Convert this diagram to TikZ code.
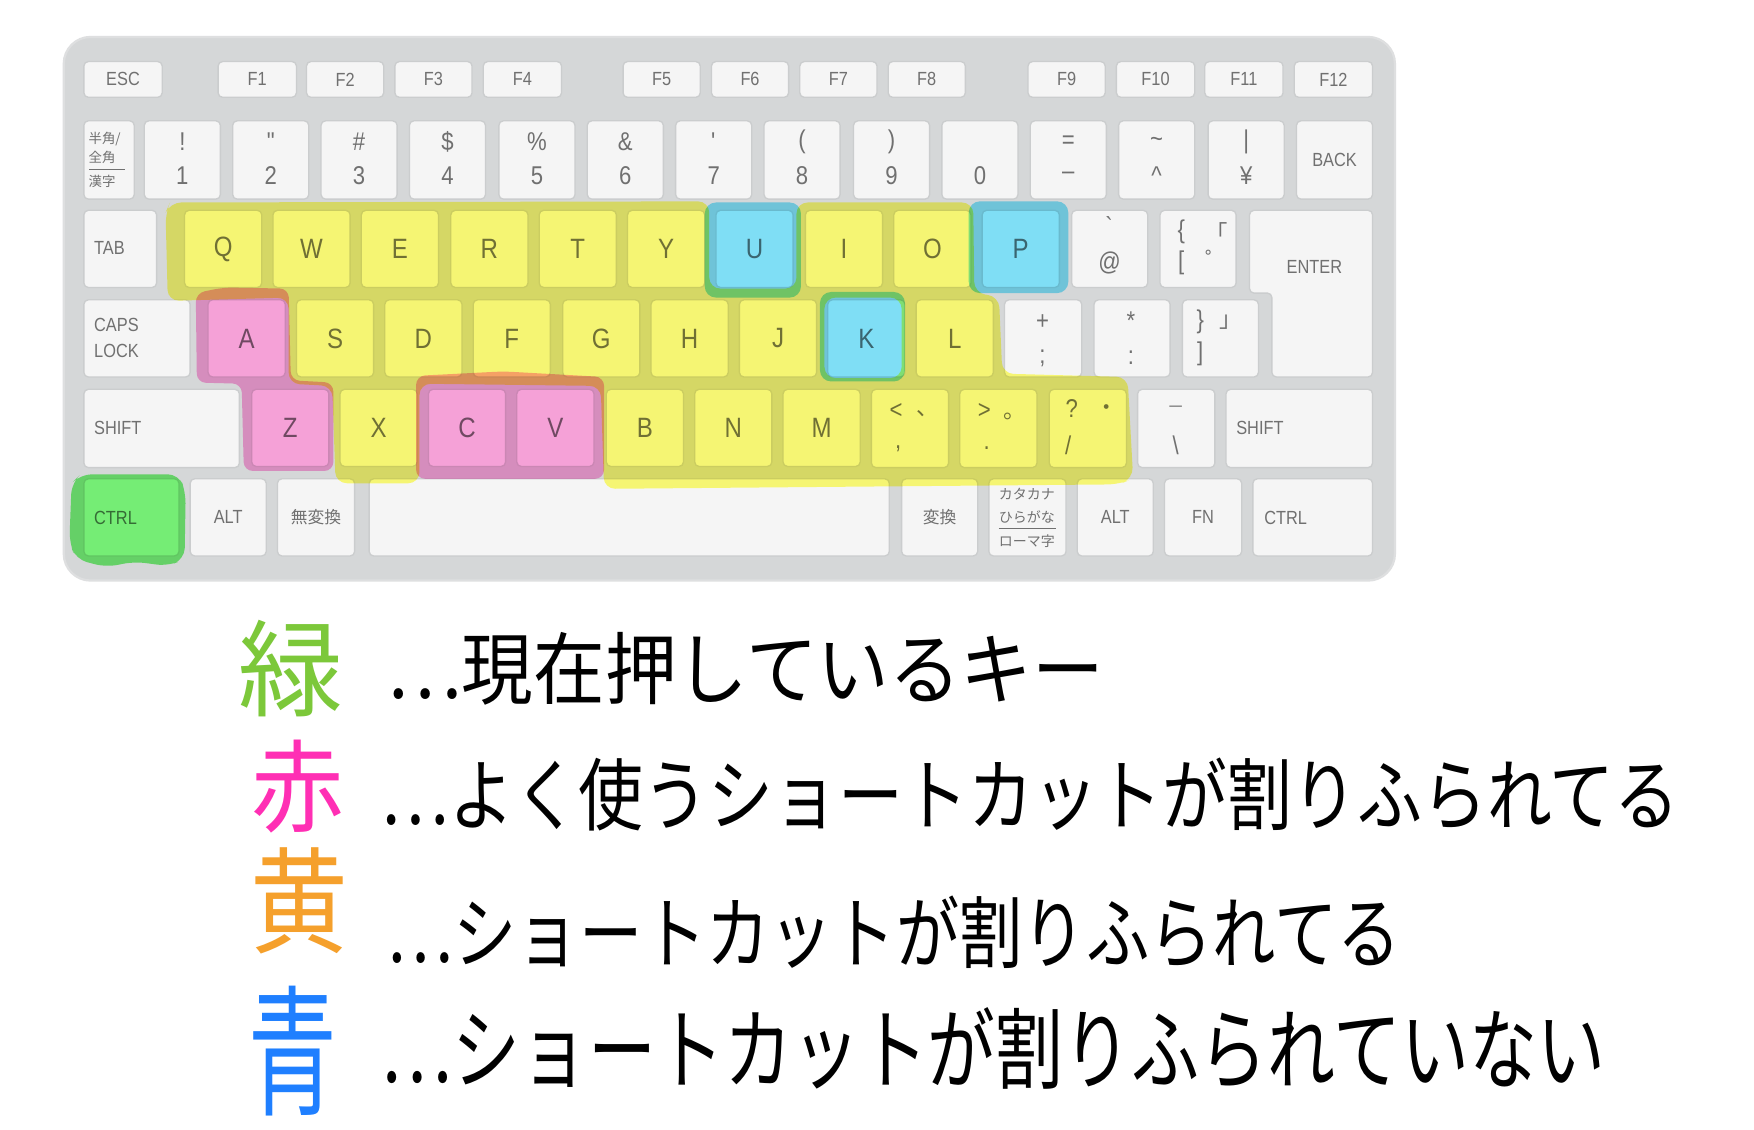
\documentclass[tikz,border=0pt]{standalone}
\usepackage{fontspec}
\setmainfont{Liberation Sans}
\newfontfamily\kf[FakeStretch=0.86]{Liberation Sans}
\newfontfamily\jf{Noto Sans CJK JP}
\definecolor{bodyc}{HTML}{D5D7D8}
\definecolor{bodyedge}{HTML}{DEDFE0}
\definecolor{keyface}{HTML}{F5F5F5}
\definecolor{keyedge}{HTML}{CBCDCE}
\definecolor{keytext}{HTML}{707070}
\definecolor{hlY}{rgb}{1,1,0.47}
\definecolor{hlP}{rgb}{1,0.66,0.88}
\definecolor{hlB}{rgb}{0.52,0.91,1}
\definecolor{hlG}{rgb}{0.48,0.97,0.48}
\definecolor{cGreen}{HTML}{7CC83A}
\definecolor{cRed}{HTML}{FF2FB4}
\definecolor{cYellow}{HTML}{F5A02C}
\definecolor{cBlue}{HTML}{1F7FFF}
\newcommand\Lt{\fontsize{25}{27}\selectfont}
\newcommand\kk[6]{\node[kbox, minimum width={(#3-#2)*1pt}, minimum height={(#5-#4)*1pt}] (#1) at ({(#2+#3)/2},{(#4+#5)/2}) {#6};}
\newcommand\nk[4]{\kk{#1}{#2}{#2+68}{108}{178}{}\node[ktxt] (#1u) at ({#2+34},127) {#3};\node[ktxt] (#1l) at ({#2+34},157) {#4};}
\newcommand\lk[4]{\kk{#1}{#2}{#2+69}{#3}{#3+69}{\Lt #4}}
\tikzset{
 kbox/.style={rectangle, rounded corners=4pt, fill=keyface, draw=keyedge, line width=1.2pt, inner sep=0pt, outer sep=0pt, text=keytext, font=\kf\fontsize{17}{19}\selectfont},
 ktxt/.style={inner sep=0pt, text=keytext, font=\kf\fontsize{23}{25}\selectfont},
 klab/.style={inner sep=0pt, text=keytext, font=\kf\fontsize{17}{23}\selectfont},
 jlab/.style={inner sep=0pt, text=keytext, font=\jf\fontsize{12}{14}\selectfont},
 hwtext/.style={inner sep=0pt, anchor=west, text=black},
 hwhead/.style={inner sep=0pt},
}
\begin{document}
\begin{tikzpicture}[x=1pt,y=-1pt]
\useasboundingbox (0,0) rectangle (1568,1010);
\fill[white] (0,0) rectangle (1568,1010);
% keyboard body
\node[fill=bodyc, draw=bodyedge, line width=2pt, rounded corners=24pt, minimum width=1190pt, minimum height=486pt, inner sep=0pt, outer sep=0pt] (kbd) at (652,276) {};
% function row
\kk{esc}{75}{145}{55}{87}{ESC}
\kk{f1}{195}{265}{55}{87}{F1}
\kk{f2}{274}{343}{55}{87}{F2}
\kk{f3}{353}{422}{55}{87}{F3}
\kk{f4}{432}{502}{55}{87}{F4}
\kk{f5}{557}{626}{55}{87}{F5}
\kk{f6}{636}{705}{55}{87}{F6}
\kk{f7}{715}{784}{55}{87}{F7}
\kk{f8}{794}{863}{55}{87}{F8}
\kk{f9}{919}{988}{55}{87}{F9}
\kk{f10}{998}{1068}{55}{87}{F10}
\kk{f11}{1077}{1147}{55}{87}{F11}
\kk{f12}{1157}{1227}{55}{87}{F12}
% number row
\kk{hz}{75}{120}{108}{178}{}
\node[jlab, anchor=west] (hz1) at (79,124) {半角/};
\node[jlab, anchor=west] (hz2) at (79,141) {全角};
\draw[keytext, line width=0.6pt] (80,151) -- (112,151);
\node[jlab, anchor=west] (hz3) at (79,162) {漢字};
\nk{n1}{129}{!}{1}
\nk{n2}{208}{"}{2}
\nk{n3}{287}{\#}{3}
\nk{n4}{366}{\$}{4}
\nk{n5}{446}{\%}{5}
\nk{n6}{525}{\&}{6}
\nk{n7}{604}{\textquotesingle}{7}
\nk{n8}{683}{(}{8}
\nk{n9}{763}{)}{9}
\nk{n0}{842}{}{0}
\nk{nmi}{921}{=}{–}
\nk{nca}{1000}{\textasciitilde}{\textasciicircum}
\nk{nye}{1080}{|}{¥}
\kk{back}{1159}{1227}{108}{178}{BACK}
% qwerty row
\kk{tab}{75}{140}{188}{257}{}
\node[klab, anchor=west] (tabl) at (84,222) {TAB};
\lk{q}{165}{188}{Q}
\lk{w}{244}{188}{W}
\lk{e}{323}{188}{E}
\lk{r}{403}{188}{R}
\lk{t}{482}{188}{T}
\lk{y}{561}{188}{Y}
\lk{u}{640}{188}{U}
\lk{i}{720}{188}{I}
\lk{o}{799}{188}{O}
\lk{p}{878}{188}{P}
\kk{at}{958}{1026}{188}{257}{}
\node[ktxt] (atu) at (992,202) {\textasciigrave};
\node[ktxt] (atl) at (992,235) {@};
\kk{lb}{1037}{1105}{188}{257}{}
\node[ktxt] (lb1) at (1056,207) {\{};
\node[ktxt, font=\jf\fontsize{20}{22}\selectfont] (lb2) at (1088,207) {「};
\node[ktxt] (lb3) at (1056,235) {[};
\node[ktxt, font=\jf\fontsize{20}{22}\selectfont] (lb4) at (1088,232) {゜};
\path[fill=keyface, draw=keyedge, line width=1.2pt, rounded corners=4pt] (1117,188) -- (1227,188) -- (1227,337) -- (1137,337) -- (1137,262) -- (1117,262) -- cycle;
\node[klab] (enter) at (1175,239) {ENTER};
% home row
\kk{caps}{75}{170}{268}{337}{}
\node[klab, anchor=west, align=left] (capsl) at (84,302) {CAPS\\LOCK};
\lk{a}{186}{268}{A}
\lk{s}{265}{268}{S}
\lk{d}{344}{268}{D}
\lk{f}{423}{268}{F}
\lk{g}{503}{268}{G}
\lk{h}{582}{268}{H}
\lk{j}{661}{268}{J}
\lk{k}{740}{268}{K}
\lk{l}{819}{268}{L}
\kk{pl}{898}{967}{268}{337}{}
\node[ktxt] (plu) at (932,288) {+};
\node[ktxt] (pll) at (932,320) {;};
\kk{as}{978}{1046}{268}{337}{}
\node[ktxt] (asu) at (1011,287) {*};
\node[ktxt] (asl) at (1011,320) {:};
\kk{rb}{1057}{1125}{268}{337}{}
\node[ktxt] (rb1) at (1073,288) {\}};
\node[ktxt, font=\jf\fontsize{20}{22}\selectfont] (rb2) at (1100,288) {」};
\node[ktxt] (rb3) at (1073,316) {]};
% bottom letter row
\kk{lsh}{75}{214}{348}{418}{}
\node[klab, anchor=west] (lshl) at (84,383) {SHIFT};
\lk{z}{225}{348}{Z}
\lk{x}{304}{348}{X}
\lk{c}{383}{348}{C}
\lk{v}{462}{348}{V}
\lk{b}{542}{348}{B}
\lk{n}{621}{348}{N}
\lk{m}{700}{348}{M}
\kk{cm}{779}{848}{348}{418}{}
\node[ktxt] (cm1) at (801,367) {<};
\node[ktxt, font=\jf\fontsize{20}{22}\selectfont] (cm2) at (829,370) {、};
\node[ktxt] (cm3) at (803,401) {,};
\kk{pd}{858}{927}{348}{418}{}
\node[ktxt] (pd1) at (880,367) {>};
\node[ktxt, font=\jf\fontsize{20}{22}\selectfont] (pd2) at (907,372) {。};
\node[ktxt] (pd3) at (882,401) {.};
\kk{sl}{938}{1007}{348}{418}{}
\node[ktxt] (sl1) at (958,365) {?};
\node[ktxt, font=\jf\fontsize{20}{22}\selectfont] (sl2) at (989,367) {・};
\node[ktxt] (sl3) at (955,398) {/};
\kk{bs}{1017}{1086}{348}{418}{}
\node[ktxt] (bs1) at (1051,372) {¯};
\node[ktxt] (bs2) at (1051,398) {\textbackslash};
\kk{rsh}{1096}{1227}{348}{418}{}
\node[klab, anchor=west] (rshl) at (1105,383) {SHIFT};
% space row
\kk{lct}{75}{160}{428}{497}{}
\node[klab, anchor=west] (lctl) at (84,463) {CTRL};
\kk{lalt}{170}{238}{428}{497}{ALT}
\kk{muh}{248}{317}{428}{497}{\jf\fontsize{15}{17}\selectfont 無変換}
\kk{spc}{330}{795}{428}{497}{}
\kk{hen}{806}{874}{428}{497}{\jf\fontsize{15}{17}\selectfont 変換}
\kk{kana}{884}{953}{428}{497}{}
\node[jlab, font=\jf\fontsize{12.5}{14}\selectfont] (kana1) at (918,442) {カタカナ};
\node[jlab, font=\jf\fontsize{12.5}{14}\selectfont] (kana2) at (918,462) {ひらがな};
\draw[keytext, line width=0.6pt] (893,472) -- (944,472);
\node[jlab, font=\jf\fontsize{12.5}{14}\selectfont] (kana3) at (918,484) {ローマ字};
\kk{ralt}{963}{1031}{428}{497}{ALT}
\kk{fn}{1041}{1110}{428}{497}{FN}
\kk{rct}{1120}{1227}{428}{497}{}
\node[klab, anchor=west] (rctl) at (1130,463) {CTRL};
% highlighter strokes
\begin{scope}[blend mode=multiply]
\fill[hlY, even odd rule, rounded corners=10pt]
  (148,190) -- (152,181) -- (634,180) -- (634,258) -- (712,258) -- (712,181) -- (870,181)
  -- (871,262) -- (893,265) -- (896,334) -- (1008,337) -- (1013,428) -- (1000,433)
  -- (540,437) -- (537,345) -- (375,343) -- (375,432) -- (300,432) -- (297,345)
  -- (258,343) -- (258,266) -- (150,269) -- cycle
  (737,266) rectangle (806,338);
\fill[hlB, rounded corners=10pt] (630,181) rectangle (716,266);
\fill[hlB, rounded corners=10pt] (866,180) rectangle (955,262);
\fill[hlB, rounded corners=10pt] (733,261) rectangle (809,341);
\fill[hlP, rounded corners=8pt] (175,262) -- (200,257) -- (258,258) -- (260,340) -- (298,342)
  -- (298,421) -- (218,421) -- (216,343) -- (176,342) -- cycle;
\fill[hlP, rounded corners=8pt] (372,336) -- (450,332) -- (540,337) -- (540,428) -- (372,428) -- cycle;
\fill[hlG, rounded corners=10pt] (64,432) -- (72,424) -- (160,424) -- (166,440) -- (165,500)
  -- (150,506) -- (120,502) -- (95,507) -- (68,500) -- (62,485) -- cycle;
\end{scope}
% legend
\node[hwhead, text=cGreen] (hg) at (260,598) {\jf\fontsize{94}{94}\selectfont 緑};
\node[hwhead, text=cRed] (hr) at (266,703) {\scalebox{0.92}[1]{\jf\fontsize{90}{90}\selectfont 赤}};
\node[hwhead, text=cYellow] (hy) at (268,805) {\scalebox{0.95}[1.12]{\jf\fontsize{92}{92}\selectfont 黄}};
\node[hwhead, text=cBlue] (hb) at (262,940) {\scalebox{0.88}[1.4]{\jf\fontsize{90}{90}\selectfont 青}};
\node[hwtext] (t1) at (345,598) {\scalebox{1}[1.1]{\jf\fontsize{64}{64}\selectfont …現在押しているキー}};
\node[hwtext] (t2) at (340,710) {\scalebox{0.906}[1.1]{\jf\fontsize{64}{64}\selectfont …よく使うショートカットが割りふられてる}};
\node[hwtext] (t3) at (345,833) {\scalebox{0.884}[1.1]{\jf\fontsize{64}{64}\selectfont …ショートカットが割りふられてる}};
\node[hwtext] (t4) at (340,937) {\scalebox{0.92}[1.2]{\jf\fontsize{66}{66}\selectfont …ショートカットが割りふられていない}};
\end{tikzpicture}
\end{document}
